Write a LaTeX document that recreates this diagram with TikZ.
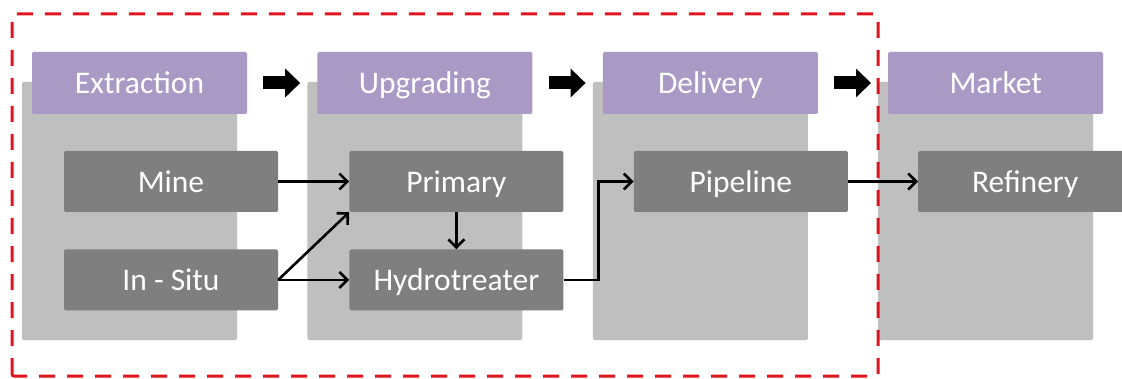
\documentclass[tikz,border=0pt]{standalone}
\usepackage{fontspec}
\setmainfont{Carlito}
\usetikzlibrary{positioning,arrows.meta}
\definecolor{stageFill}{HTML}{A99AC5}
\definecolor{laneFill}{HTML}{BFBFBF}
\definecolor{unitFill}{HTML}{7F7F7F}
\definecolor{scopeDraw}{HTML}{E0141E}

\begin{document}
\begin{tikzpicture}[
  x=1pt, y=1pt,
  font=\fontsize{31.5}{36}\selectfont,
  lane/.style={fill=laneFill, rounded corners=1.5pt, minimum width=215pt, minimum height=258pt, inner sep=0pt},
  stage/.style={fill=stageFill, text=white, rounded corners=1.5pt, minimum width=215pt, minimum height=62pt,
                inner sep=0pt, text height=25pt, text depth=3pt},
  unit/.style={fill=unitFill, text=white, rounded corners=1.5pt, minimum width=214pt, minimum height=61pt,
               inner sep=0pt, text height=25pt, text depth=3pt},
  stagearr/.style={-{Triangle[length=15pt,width=28pt]}, line width=13pt, draw=black},
  flow/.style={-{Straight Barb[length=8pt,width=16pt]}, line width=2.6pt, draw=black},
]
\useasboundingbox (0,0) rectangle (1122,378);
\fill[white] (0,0) rectangle (1122,378);

% ---- Columnas de fondo ----
\node[lane]                    (lext) at (129.5,167) {};
\node[lane, right=70pt of lext] (lupg)             {};
\node[lane, right=70pt of lupg] (ldel)             {};
\node[lane, right=70pt of ldel] (lmkt)             {};

% ---- Etapas ----
\node[stage]                    (hext) at (139.5,295) {Extraction};
\node[stage, right=70pt of hext] (hupg)               {Upgrading};
\node[stage, right=70pt of hupg] (hdel)               {Delivery};
\node[stage, right=70pt of hdel] (hmkt)               {Market};

% ---- Unidades ----
\node[unit]                        (mine) at (171,196.5) {Mine};
\node[unit, below=37pt of mine]    (insitu)              {In - Situ};
\node[unit, right=71pt of mine]    (primary)             {Primary};
\node[unit, below=37pt of primary] (hydro)               {Hydrotreater};
\node[unit, right=70pt of primary] (pipeline)            {Pipeline};
\node[unit, right=70pt of pipeline] (refinery)           {Refinery};

% ---- Flechas entre etapas ----
\draw[stagearr] ([xshift=16pt]hext.east) -- ([xshift=-17pt]hupg.west);
\draw[stagearr] ([xshift=16pt]hupg.east) -- ([xshift=-17pt]hdel.west);
\draw[stagearr] ([xshift=16pt]hdel.east) -- ([xshift=-17pt]hmkt.west);

% ---- Flujo ----
\draw[flow] (mine) -- (primary);
\draw[flow] (insitu.east) -- (primary.south west);
\draw[flow] (insitu) -- (hydro);
\draw[flow] (primary) -- (hydro);
\draw[flow] (hydro.east) -- ++(35,0) |- (pipeline.west);
\draw[flow] (pipeline) -- (refinery);

% ---- Limite del sistema ----
\draw[scopeDraw, line width=3pt, dash pattern=on 16pt off 12pt, rounded corners=2pt]
  (12,2) rectangle (878,364);

\end{tikzpicture}
\end{document}
